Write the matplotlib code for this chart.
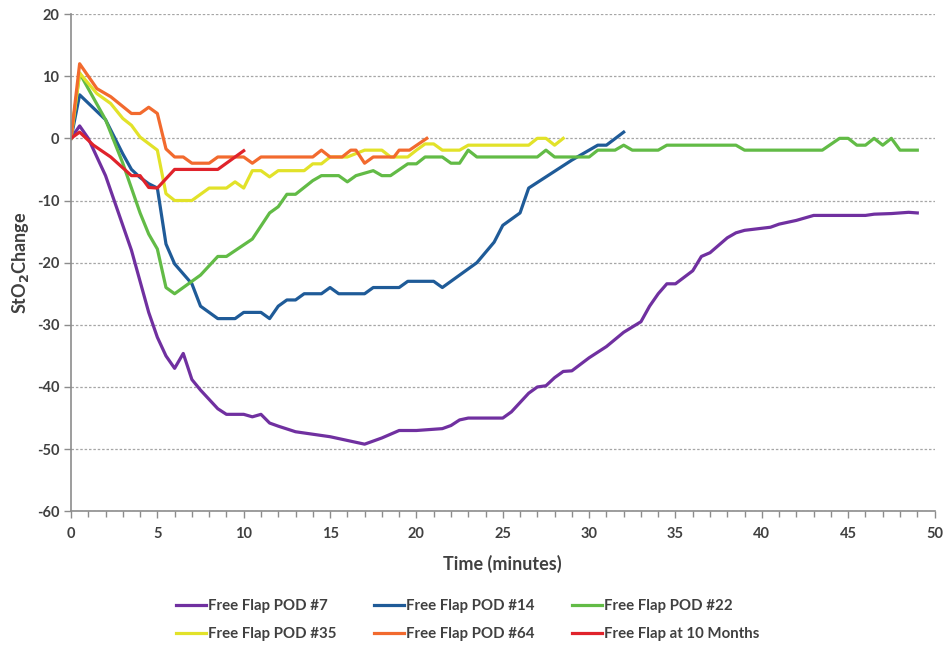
import matplotlib.pyplot as plt
from matplotlib.ticker import MultipleLocator

plt.rcParams['font.family'] = ['Lato', 'DejaVu Sans']
plt.rcParams['font.weight'] = 'bold'
plt.rcParams['axes.unicode_minus'] = False

# StO2 change over time for each flap recording
pod7_t = [0, 0.5, 1, 1.5, 2, 2.5, 3, 3.5, 4, 4.5, 5, 5.5, 6, 6.5, 7, 7.5, 8, 8.5, 9, 10,
          10.5, 11, 11.5, 12, 13, 14, 15, 16, 17, 18, 19, 20, 21, 21.5, 22, 22.5, 23, 24,
          25, 25.5, 26, 26.5, 27, 27.5, 28, 28.5, 29, 30, 31, 32, 33, 33.5, 34, 34.5, 35,
          36, 36.5, 37, 38, 38.5, 39, 40.5, 41, 42, 43, 46, 46.5, 47.5, 48.5, 49]
pod7_v = [0, 2, 0, -3, -6, -10, -14, -18, -23, -28, -32, -35, -37, -34.6, -38.8, -40.5,
          -42, -43.5, -44.4, -44.4, -44.8, -44.4, -45.8, -46.3, -47.2, -47.6, -48, -48.6,
          -49.2, -48.2, -47, -47, -46.8, -46.7, -46.2, -45.3, -45, -45, -45, -44, -42.5,
          -41, -40, -39.8, -38.5, -37.5, -37.4, -35.3, -33.5, -31.2, -29.5, -27, -25,
          -23.4, -23.4, -21.3, -19, -18.4, -16, -15.2, -14.8, -14.3, -13.8, -13.2, -12.4,
          -12.4, -12.2, -12.1, -11.9, -12]

pod14_t = [0, 0.5, 2, 3, 3.5, 4, 4.5, 5, 5.5, 6, 7, 7.5, 8.5, 9.5, 10, 11, 11.5, 12,
           12.5, 13, 13.5, 14.5, 15, 15.5, 17, 17.5, 19, 19.5, 21, 21.5, 22.5, 23.5, 24.5,
           25, 26, 26.5, 27.5, 29, 30.5, 31, 32]
pod14_v = [0, 7, 3, -2.5, -5, -6.3, -7.3, -8, -17, -20.2, -23.4, -27, -29, -29, -28, -28,
           -29, -27, -26, -26, -25, -25, -24, -25, -25, -24, -24, -23, -23, -24, -22, -20,
           -16.7, -14, -12, -8, -6.2, -3.5, -1.1, -1.1, 1]

pod22_t = [0, 0.5, 2, 3, 4, 4.5, 5, 5.5, 6, 7.5, 8.5, 9, 10.5, 11.5, 12, 12.5, 13, 14,
           14.5, 15.5, 16, 16.5, 17.5, 18, 18.5, 19.5, 20, 20.5, 21.5, 22, 22.5, 23, 23.5,
           27, 27.5, 28, 30, 30.5, 31.5, 32, 32.5, 34, 34.5, 38.5, 39, 43.5, 44.5, 45,
           45.5, 46, 46.5, 47, 47.5, 48, 49]
pod22_v = [0, 10.5, 3, -4, -12, -15.4, -17.8, -24, -25, -22, -19, -19, -16.2, -12, -11,
           -9, -9, -6.8, -6, -6, -7, -6, -5.2, -6, -6, -4.1, -4.1, -3, -3, -4, -4, -1.9,
           -3, -3, -1.9, -3, -3, -1.9, -1.9, -1.1, -1.9, -1.9, -1.1, -1.1, -1.9, -1.9, 0,
           0, -1.1, -1.1, 0, -1.1, 0, -1.9, -1.9]

pod35_t = [0, 0.5, 1.5, 2.3, 3, 3.5, 4, 5, 5.5, 6, 7, 8, 9, 9.5, 10, 10.5, 11, 11.5, 12,
           13.5, 14, 14.5, 15, 16, 17, 18, 18.5, 19.5, 20, 20.5, 21, 21.5, 22.5, 23, 26.5,
           27, 27.5, 28, 28.5]
pod35_v = [0, 10.5, 7.2, 5.6, 3.2, 2.1, 0.2, -1.9, -8.9, -10, -10, -8, -8, -7, -8,
           -5.2, -5.2, -6.2, -5.2, -5.2, -4.1, -4.1, -3, -3, -1.9, -1.9, -3, -3, -1.9,
           -0.9, -0.9, -1.9, -1.9, -1.1, -1.1, 0, 0, -1.1, 0]

pod64_t = [0, 0.5, 1.5, 2.3, 3.5, 4, 4.5, 5, 5.5, 6, 6.5, 7, 8, 8.5, 10, 10.5, 11, 14,
           14.5, 15, 15.7, 16.2, 16.5, 17, 17.5, 18.7, 19, 19.6, 20.6]
pod64_v = [0, 12, 8, 6.7, 4, 4, 5, 4, -1.7, -3, -3, -4, -4, -3, -3, -4, -3, -3, -1.9,
           -3, -3, -1.9, -1.9, -4, -3, -3, -1.9, -1.9, 0]

month10_t = [0, 0.5, 1.3, 2.3, 3.5, 4, 4.5, 5, 6, 8.5, 10]
month10_v = [0, 1, -1.1, -3, -6, -6, -7.9, -8, -5, -5, -2]

series = [
    (pod7_t, pod7_v, '#7030a0', 'Free Flap POD #7'),
    (pod14_t, pod14_v, '#1f5b98', 'Free Flap POD #14'),
    (pod22_t, pod22_v, '#62bb46', 'Free Flap POD #22'),
    (pod35_t, pod35_v, '#e2e229', 'Free Flap POD #35'),
    (pod64_t, pod64_v, '#f26a2e', 'Free Flap POD #64'),
    (month10_t, month10_v, '#e0232b', 'Free Flap at 10 Months'),
]

text_color = '#404040'
axis_color = '#8c8c8c'

fig = plt.figure(figsize=(9.44, 6.46), dpi=100)
ax = fig.add_axes([0.0752, 0.2085, 0.9148, 0.7698])

lines = {}
for t, v, c, name in series:
    lines[name], = ax.plot(t, v, color=c, lw=2.3, label=name, solid_joinstyle='round')

ax.set_xlim(0, 50)
ax.set_ylim(-60, 20)
ax.xaxis.set_major_locator(MultipleLocator(5))
ax.xaxis.set_minor_locator(MultipleLocator(1))
ax.yaxis.set_major_locator(MultipleLocator(10))

ax.yaxis.grid(True, linestyle=(0, (2, 1.5)), color='#a6a6a6', lw=0.9)
ax.set_axisbelow(True)

for s in ['top', 'right']:
    ax.spines[s].set_visible(False)
for s in ['left', 'bottom']:
    ax.spines[s].set_color(axis_color)
    ax.spines[s].set_linewidth(1.2)

ax.tick_params(axis='both', which='both', direction='out', color=axis_color,
               labelcolor=text_color, labelsize=10.5, width=1)
ax.tick_params(axis='both', which='major', length=5)
ax.tick_params(axis='x', which='minor', length=4)
ax.tick_params(axis='x', pad=6)

ax.set_xlabel('Time (minutes)', fontsize=13, color=text_color, fontweight='bold', labelpad=10)
ax.set_ylabel('StO$_\\mathbf{2}$Change', fontsize=13, color=text_color, fontweight='bold', labelpad=4)

# legend rows: POD #7, #14, #22 on top; #35, #64, 10 months below
order = ['Free Flap POD #7', 'Free Flap POD #35', 'Free Flap POD #14',
         'Free Flap POD #64', 'Free Flap POD #22', 'Free Flap at 10 Months']
leg = fig.legend([lines[n] for n in order], order, ncol=3, loc='upper left',
                 bbox_to_anchor=(176 / 944, 1 - 599 / 646), frameon=False,
                 fontsize=10.8, handlelength=2.0, handletextpad=0.13,
                 columnspacing=2.5, labelspacing=0.95, borderpad=0, borderaxespad=0)
for txt in leg.get_texts():
    txt.set_color(text_color)

fig.savefig('out.png', dpi=100)
